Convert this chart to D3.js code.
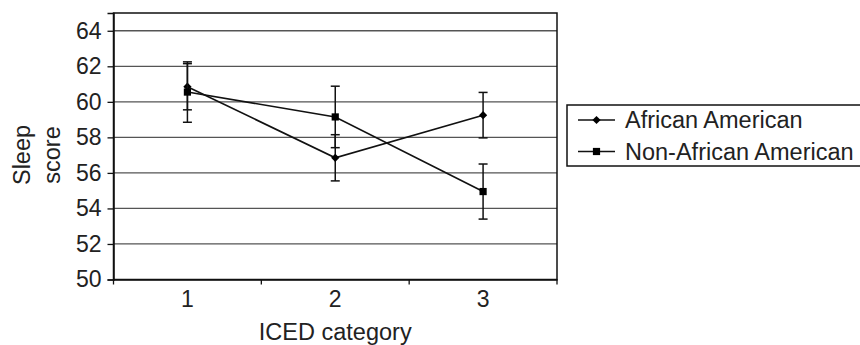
<!DOCTYPE html>
<html>
<head>
<meta charset="utf-8">
<script src="https://cdn.jsdelivr.net/npm/d3@7"></script>
<style>
  body { margin: 0; background: #fff; }
  svg { display: block; font-family: "Liberation Sans", Arial, sans-serif; }
  text { fill: #222; }
</style>
</head>
<body>
<svg id="chart" width="860" height="345"></svg>
<script>
var categories = ["1", "2", "3"];
var yTicks = [50, 52, 54, 56, 58, 60, 62, 64];
var seriesNames = ["African American", "Non-African American"];
var africanAmerican = [60.85, 56.85, 59.25];
var africanAmericanErr = [1.3, 1.3, 1.28];
var nonAfricanAmerican = [60.55, 59.15, 54.95];
var nonAfricanAmericanErr = [1.7, 1.73, 1.55];

var svg = d3.select("#chart");
var margin = {left: 113.5, right: 303, top: 13, bottom: 65.5};
var width = 860 - margin.left - margin.right;
var height = 345 - margin.top - margin.bottom;

var g = svg.append("g")
    .attr("transform", "translate(" + margin.left + "," + margin.top + ")");

var x = d3.scaleBand().domain(categories).range([0, width]).padding(0);
var y = d3.scaleLinear().domain([50, 65]).range([height, 0]);

// gridlines
g.append("g")
    .selectAll("line")
    .data(yTicks.slice(1))
    .join("line")
    .attr("x1", 0)
    .attr("x2", width)
    .attr("y1", d => y(d))
    .attr("y2", d => y(d))
    .attr("stroke", "#555")
    .attr("stroke-width", 1.3);

// plot frame
g.append("rect")
    .attr("x", 0).attr("y", 0)
    .attr("width", width).attr("height", height)
    .attr("fill", "none")
    .attr("stroke", "#111")
    .attr("stroke-width", 1.5);

// y axis
var yAxis = g.append("g")
    .call(d3.axisLeft(y).tickValues(yTicks).tickSize(6).tickPadding(6));
yAxis.select(".domain").attr("stroke", "#111").attr("stroke-width", 1.5);
yAxis.selectAll(".tick line").attr("stroke", "#111").attr("stroke-width", 1.3);
yAxis.selectAll(".tick text")
    .attr("font-size", 23)
    .attr("font-family", "Liberation Sans, Arial, sans-serif")
    .attr("fill", "#222");

// x axis (labels at centers, ticks at band edges)
var xAxis = g.append("g")
    .attr("transform", "translate(0," + height + ")")
    .call(d3.axisBottom(x).tickSize(0).tickPadding(11));
xAxis.select(".domain").attr("stroke", "#111").attr("stroke-width", 1.5);
xAxis.selectAll(".tick text")
    .attr("font-size", 23)
    .attr("font-family", "Liberation Sans, Arial, sans-serif")
    .attr("fill", "#222");

var edges = categories.map(c => x(c)).concat([width]);
g.append("g")
    .selectAll("line")
    .data(edges)
    .join("line")
    .attr("x1", d => d).attr("x2", d => d)
    .attr("y1", height).attr("y2", height + 5)
    .attr("stroke", "#111")
    .attr("stroke-width", 1.3);

// axis titles
svg.append("text")
    .attr("x", margin.left + width / 2)
    .attr("y", 340)
    .attr("text-anchor", "middle")
    .attr("font-size", 23.5)
    .text("ICED category");

var yTitle = svg.append("text")
    .attr("transform", "translate(30,155) rotate(-90)")
    .attr("text-anchor", "middle")
    .attr("font-size", 23.5);
yTitle.append("tspan").attr("x", 0).attr("dy", 0).text("Sleep");
yTitle.append("tspan").attr("x", 0).attr("dy", 30).text("score");

var cx = d => x(d) + x.bandwidth() / 2;

var series = [
    {name: seriesNames[0], values: africanAmerican, err: africanAmericanErr, symbol: d3.symbolSquare, size: 34, rotate: 45},
    {name: seriesNames[1], values: nonAfricanAmerican, err: nonAfricanAmericanErr, symbol: d3.symbolSquare, size: 52, rotate: 0}
];

var line = d3.line()
    .x((d, i) => cx(categories[i]))
    .y(d => y(d));

series.forEach(function(s) {
    var sg = g.append("g");
    // error bars
    categories.forEach(function(c, i) {
        var px = cx(c);
        var hi = y(s.values[i] + s.err[i]);
        var lo = y(s.values[i] - s.err[i]);
        sg.append("line").attr("x1", px).attr("x2", px).attr("y1", hi).attr("y2", lo)
            .attr("stroke", "#111").attr("stroke-width", 1.5);
        [hi, lo].forEach(function(yy) {
            sg.append("line").attr("x1", px - 4.5).attr("x2", px + 4.5).attr("y1", yy).attr("y2", yy)
                .attr("stroke", "#111").attr("stroke-width", 1.5);
        });
    });
    sg.append("path")
        .datum(s.values)
        .attr("d", line)
        .attr("fill", "none")
        .attr("stroke", "#111")
        .attr("stroke-width", 1.6);
    sg.selectAll(".pt")
        .data(s.values)
        .join("path")
        .attr("class", "pt")
        .attr("transform", (d, i) => "translate(" + cx(categories[i]) + "," + y(d) + ") rotate(" + s.rotate + ")")
        .attr("d", d3.symbol().type(s.symbol).size(s.size))
        .attr("fill", "#000");
});

// legend
var legend = svg.append("g");
legend.append("rect")
    .attr("x", 567).attr("y", 105)
    .attr("width", 300).attr("height", 61)
    .attr("fill", "#fff")
    .attr("stroke", "#111")
    .attr("stroke-width", 1.5);

series.forEach(function(s, i) {
    var ly = 120 + i * 31.5;
    legend.append("line")
        .attr("x1", 578).attr("x2", 615)
        .attr("y1", ly).attr("y2", ly)
        .attr("stroke", "#111").attr("stroke-width", 1.6);
    legend.append("path")
        .attr("transform", "translate(596.5," + ly + ") rotate(" + s.rotate + ")")
        .attr("d", d3.symbol().type(s.symbol).size(s.size))
        .attr("fill", "#000");
    legend.append("text")
        .attr("x", 625).attr("y", ly)
        .attr("dy", "0.36em")
        .attr("font-size", 23.5)
        .text(s.name);
});
</script>
</body>
</html>
